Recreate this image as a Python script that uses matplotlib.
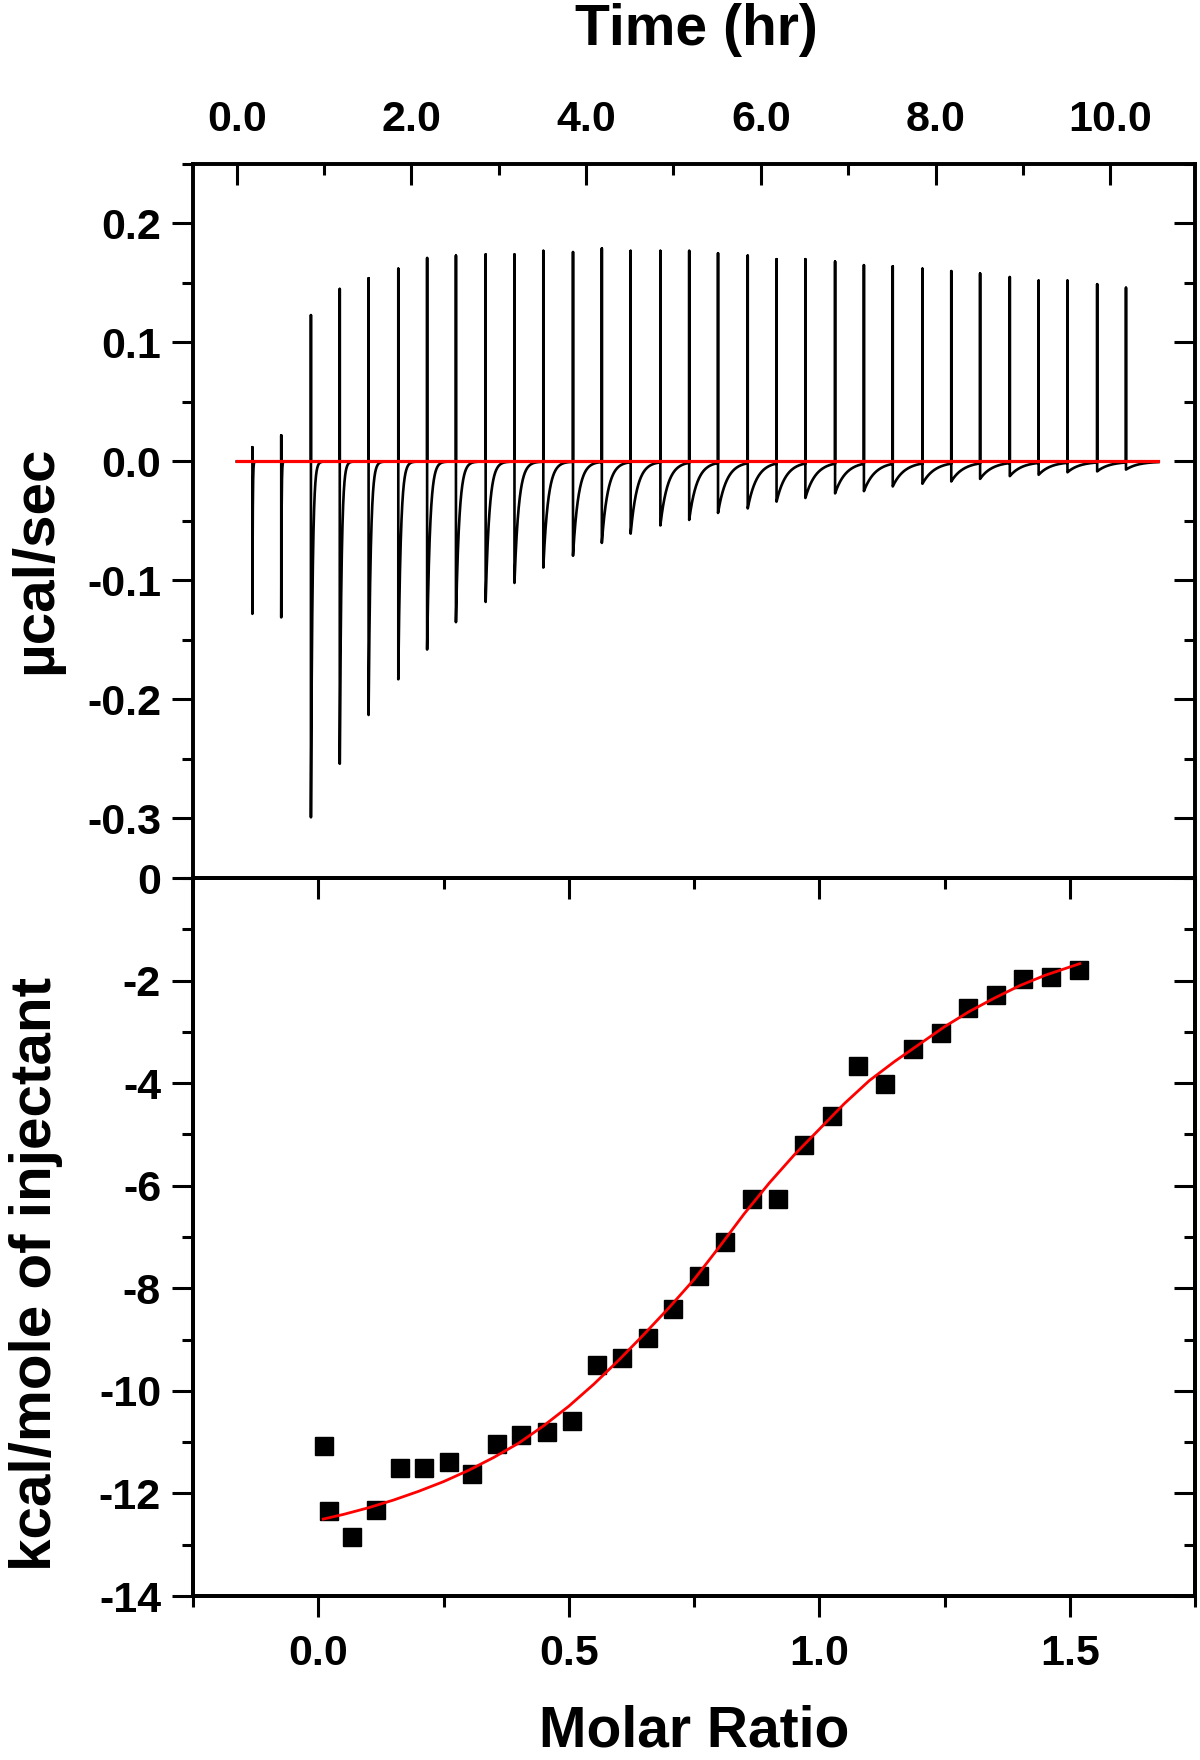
import numpy as np
import matplotlib
matplotlib.use('Agg')
import matplotlib.pyplot as plt
from matplotlib.ticker import MultipleLocator, FuncFormatter

plt.rcParams['font.family'] = ['Liberation Sans', 'DejaVu Sans']
plt.rcParams['font.weight'] = 'bold'
plt.rcParams['axes.unicode_minus'] = False

# ---------------- raw thermogram (top panel) ----------------
inj_time_hr = [0.18, 0.51, 0.85, 1.18, 1.51, 1.85, 2.18, 2.51, 2.85, 3.18,
               3.51, 3.85, 4.18, 4.51, 4.85, 5.18, 5.51, 5.85, 6.18, 6.51,
               6.85, 7.18, 7.51, 7.85, 8.18, 8.51, 8.85, 9.18, 9.51, 9.85, 10.18]
spike_up_ucal_s = [0.012, 0.022, 0.123, 0.145, 0.154, 0.162, 0.171, 0.173, 0.174, 0.174,
                   0.177, 0.176, 0.179, 0.177, 0.177, 0.177, 0.175, 0.173, 0.170, 0.170,
                   0.168, 0.165, 0.164, 0.162, 0.160, 0.158, 0.155, 0.152, 0.152, 0.149, 0.146]
peak_down_ucal_s = [-0.128, -0.131, -0.299, -0.254, -0.213, -0.183, -0.158, -0.135, -0.118, -0.102,
                    -0.089, -0.079, -0.068, -0.060, -0.053, -0.048, -0.042, -0.038, -0.032, -0.029,
                    -0.025, -0.023, -0.019, -0.017, -0.015, -0.013, -0.011, -0.010, -0.008, -0.0075, -0.006]
decay_tau_hr = [0.004, 0.004, 0.018, 0.020, 0.024, 0.028, 0.033, 0.038, 0.043, 0.050,
                0.056, 0.063, 0.070, 0.077, 0.085, 0.090, 0.100, 0.105, 0.110, 0.120,
                0.125, 0.130, 0.135, 0.140, 0.140, 0.140, 0.140, 0.140, 0.140, 0.140, 0.140]
trace_end_hr = 10.55
baseline_time_hr = [0.0, 10.55]
baseline_ucal_s = [0.0, 0.0]

# ---------------- integrated heats (bottom panel) ----------------
molar_ratio = [0.012, 0.021, 0.068, 0.115, 0.164, 0.211, 0.260, 0.307, 0.356, 0.405,
               0.457, 0.506, 0.557, 0.607, 0.658, 0.709, 0.759, 0.812, 0.866, 0.917,
               0.969, 1.025, 1.078, 1.132, 1.188, 1.244, 1.297, 1.353, 1.407, 1.463, 1.519]
heat_kcal_mol = [-11.08, -12.35, -12.85, -12.32, -11.50, -11.50, -11.39, -11.62, -11.04, -10.86,
                 -10.81, -10.58, -9.50, -9.35, -8.96, -8.40, -7.77, -7.09, -6.25, -6.25,
                 -5.21, -4.64, -3.67, -4.02, -3.34, -3.02, -2.53, -2.29, -1.97, -1.94, -1.79]
fit_ratio = [0.01, 0.05, 0.10, 0.15, 0.20, 0.25, 0.30, 0.35, 0.40, 0.45,
             0.50, 0.55, 0.60, 0.65, 0.70, 0.75, 0.80, 0.85, 0.90, 0.95,
             1.00, 1.05, 1.10, 1.15, 1.20, 1.25, 1.30, 1.35, 1.40, 1.45, 1.52]
fit_kcal_mol = [-12.50, -12.41, -12.28, -12.13, -11.96, -11.77, -11.55, -11.30, -11.02, -10.68,
                -10.30, -9.87, -9.40, -8.90, -8.38, -7.83, -7.20, -6.55, -5.95, -5.40,
                -4.90, -4.40, -3.95, -3.58, -3.24, -2.90, -2.60, -2.34, -2.10, -1.90, -1.67]

# ---------- build the continuous thermogram trace ----------
def trace_value(t, upto):
    y = np.zeros_like(t)
    for j in range(upto + 1):
        m = t >= inj_time_hr[j]
        y[m] += peak_down_ucal_s[j] * np.exp(-(t[m] - inj_time_hr[j]) / decay_tau_hr[j])
    return y

tx = [0.0, inj_time_hr[0]]
ty = [0.0, 0.0]
n = len(inj_time_hr)
for i in range(n):
    t0 = inj_time_hr[i]
    t1 = inj_time_hr[i + 1] if i + 1 < n else trace_end_hr
    tx += [t0]
    ty += [spike_up_ucal_s[i]]
    seg = np.linspace(t0, t1, 700)
    ys = trace_value(seg, i)
    tx += list(seg)
    ty += list(ys)

# ---------------- figure ----------------
W, H = 1200, 1760
fig = plt.figure(figsize=(12, 17.6), dpi=100)
L, R = 193, 1195
T1, B1 = 164, 878
B2 = 1596
ax1 = fig.add_axes([L / W, 1 - B1 / H, (R - L) / W, (B1 - T1) / H])
ax2 = fig.add_axes([L / W, 1 - B2 / H, (R - L) / W, (B2 - B1) / H])

SPW = 2.6
TW = 2.2
MAJ, MIN = 15, 8
TFS = 31

def fmt1(v, p):
    if abs(v) < 1e-9:
        v = 0.0
    return f"{v:.1f}"

def fmt0(v, p):
    if abs(v) < 1e-9:
        v = 0.0
    return f"{v:.0f}"

# ---- top panel ----
ax1.plot(tx, ty, color='black', lw=1.9, zorder=2)
ax1.plot(baseline_time_hr, baseline_ucal_s, color='#ff0000', lw=2.3, zorder=3)
ax1.set_xlim(-0.5, 10.97)
ax1.set_ylim(-0.35, 0.25)
ax1.xaxis.set_major_locator(MultipleLocator(2))
ax1.xaxis.set_minor_locator(MultipleLocator(1))
ax1.xaxis.set_major_formatter(FuncFormatter(fmt1))
ax1.yaxis.set_major_locator(MultipleLocator(0.1))
ax1.yaxis.set_minor_locator(MultipleLocator(0.05))
ax1.yaxis.set_major_formatter(FuncFormatter(fmt1))
ax1.tick_params(axis='x', which='both', bottom=False, top=True, labelbottom=False,
                labeltop=True, direction='in', width=TW)
ax1.tick_params(axis='x', which='major', length=MAJ, pad=17, labelsize=TFS)
ax1.tick_params(axis='x', which='minor', length=MIN)
ax1.tick_params(axis='y', which='both', left=True, right=False, direction='out', width=TW)
ax1.tick_params(axis='y', which='major', length=MAJ, pad=8, labelsize=TFS)
ax1.tick_params(axis='y', which='minor', length=MIN)
for s in ax1.spines.values():
    s.set_linewidth(SPW)

r1 = ax1.twinx()
r1.set_ylim(ax1.get_ylim())
r1.yaxis.set_major_locator(MultipleLocator(0.1))
r1.yaxis.set_minor_locator(MultipleLocator(0.05))
r1.tick_params(axis='y', which='both', direction='in', right=True, labelright=False, width=TW)
r1.tick_params(axis='y', which='major', length=MAJ)
r1.tick_params(axis='y', which='minor', length=MIN)
for s in r1.spines.values():
    s.set_linewidth(SPW)

# ---- bottom panel ----
ax2.plot(molar_ratio, heat_kcal_mol, linestyle='none', marker='s', markersize=13.5,
         color='black', zorder=2)
ax2.plot(fit_ratio, fit_kcal_mol, color='#ff0000', lw=2.0, zorder=3)
ax2.set_xlim(-0.25, 1.75)
ax2.set_ylim(-14, 0)
ax2.xaxis.set_major_locator(MultipleLocator(0.5))
ax2.xaxis.set_minor_locator(MultipleLocator(0.25))
ax2.xaxis.set_major_formatter(FuncFormatter(fmt1))
ax2.yaxis.set_major_locator(MultipleLocator(2))
ax2.yaxis.set_minor_locator(MultipleLocator(1))
ax2.yaxis.set_major_formatter(FuncFormatter(fmt0))
ax2.tick_params(axis='x', which='both', bottom=True, top=False, direction='out', width=TW)
ax2.tick_params(axis='x', which='major', length=MAJ, pad=12, labelsize=TFS)
ax2.tick_params(axis='x', which='minor', length=MIN)
ax2.tick_params(axis='y', which='both', left=True, right=False, direction='out', width=TW)
ax2.tick_params(axis='y', which='major', length=MAJ, pad=8, labelsize=TFS)
ax2.tick_params(axis='y', which='minor', length=MIN)
for s in ax2.spines.values():
    s.set_linewidth(SPW)

r2 = ax2.twinx()
r2.set_ylim(ax2.get_ylim())
r2.yaxis.set_major_locator(MultipleLocator(2))
r2.yaxis.set_minor_locator(MultipleLocator(1))
r2.tick_params(axis='y', which='both', direction='in', right=True, labelright=False, width=TW)
r2.tick_params(axis='y', which='major', length=MAJ)
r2.tick_params(axis='y', which='minor', length=MIN)
for s in r2.spines.values():
    s.set_linewidth(SPW)

t2 = ax2.twiny()
t2.set_xlim(ax2.get_xlim())
t2.xaxis.set_major_locator(MultipleLocator(0.5))
t2.xaxis.set_minor_locator(MultipleLocator(0.25))
t2.tick_params(axis='x', which='both', direction='in', top=True, labeltop=False, width=TW)
t2.tick_params(axis='x', which='major', length=MAJ)
t2.tick_params(axis='x', which='minor', length=MIN)
for s in t2.spines.values():
    s.set_linewidth(SPW)

# ---- axis titles ----
fig.text(696 / W, 1 - 45 / H, 'Time (hr)', ha='center', va='baseline',
         fontsize=41, fontweight='bold')
fig.text(694 / W, 2 / H, 'Molar Ratio', ha='center', va='bottom',
         fontsize=41, fontweight='bold')
fig.text(36 / W, 1 - 560 / H, 'µcal/sec', ha='center', va='center', rotation=90,
         fontsize=42, fontweight='bold')
fig.text(36 / W, 1 - 1274 / H, 'kcal/mole of injectant', ha='center', va='center',
         rotation=90, fontsize=42, fontweight='bold')

fig.savefig('out.png', dpi=100, facecolor='white')
